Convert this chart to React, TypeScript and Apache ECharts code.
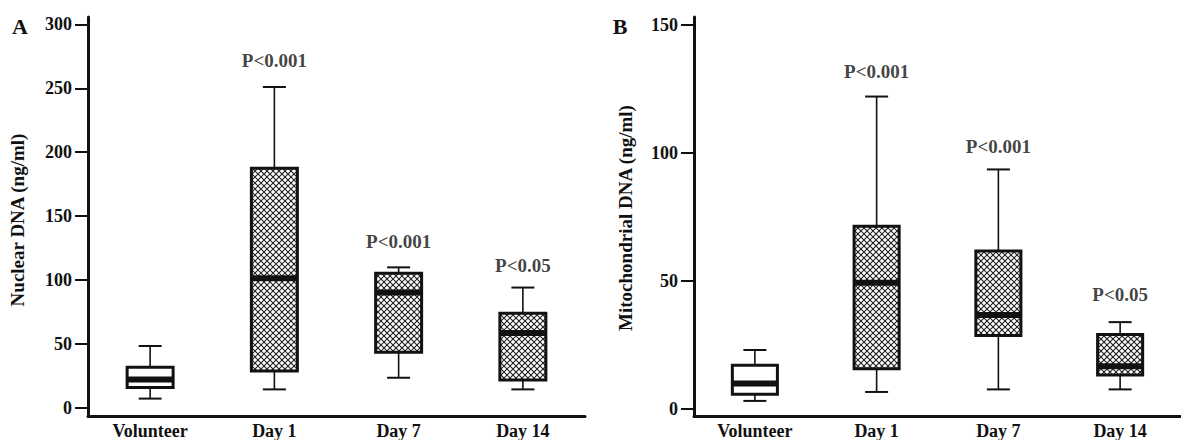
import React, { useEffect, useRef } from 'react';
import * as echarts from 'echarts';

const categories = ['Volunteer', 'Day 1', 'Day 7', 'Day 14'];
// each row: [min, Q1, median, Q3, max]
const nuclearDNA = [
  [7.4, 16, 22.4, 32, 48.5],
  [14.6, 28.9, 101.4, 187.4, 251],
  [23.7, 43.7, 90.3, 105.3, 110],
  [14.6, 21.9, 58.7, 74.2, 94.2],
];
const mitoDNA = [
  [3.0, 5.6, 9.8, 16.9, 22.9],
  [6.5, 15.6, 49.2, 71.3, 122],
  [7.5, 28.6, 36.6, 61.6, 93.5],
  [7.5, 13.1, 16.6, 29.0, 33.8],
];
const hatched = [false, true, true, true];
const nuclearTicks = [0, 50, 100, 150, 200, 250, 300];
const mitoTicks = [0, 50, 100, 150];
const pCategories = ['Day 1', 'Day 7', 'Day 14'];
const pLabels = ['P<0.001', 'P<0.001', 'P<0.05'];
const nuclearPY = [272, 130, 111.7];
const mitoPY = [131.8, 102.5, 44.6];

const FONT = "'Liberation Serif', 'Times New Roman', serif";
const INK = '#111';

function hatchLines(x0: number, y0: number, x1: number, y1: number, s: number) {
  const out: any[] = [];
  const st = { stroke: '#222', lineWidth: 1.1 };
  let c = Math.ceil((y0 - x1) / s) * s;
  for (; c <= y1 - x0; c += s) {
    const xa = Math.max(x0, y0 - c);
    const xb = Math.min(x1, y1 - c);
    if (xb > xa) out.push({ type: 'line', silent: true, shape: { x1: xa, y1: xa + c, x2: xb, y2: xb + c }, style: st });
  }
  c = Math.ceil((x0 + y0) / s) * s;
  for (; c <= x1 + y1; c += s) {
    const xa = Math.max(x0, c - y1);
    const xb = Math.min(x1, c - y0);
    if (xb > xa) out.push({ type: 'line', silent: true, shape: { x1: xa, y1: c - xa, x2: xb, y2: c - xb }, style: st });
  }
  return out;
}

function renderBox(params: any, api: any) {
  const i = api.value(0);
  const [mn, q1, md, q3, mx] = [api.value(1), api.value(2), api.value(3), api.value(4), api.value(5)];
  const cx = api.coord([i, 0])[0];
  const bw = api.size([1, 0])[0] * 0.37;
  const cap = 23;
  const yMin = api.coord([i, mn])[1];
  const yQ1 = api.coord([i, q1])[1];
  const yMd = api.coord([i, md])[1];
  const yQ3 = api.coord([i, q3])[1];
  const yMax = api.coord([i, mx])[1];
  const x0 = cx - bw / 2;
  const x1 = cx + bw / 2;
  const children: any[] = [];
  const wl = { stroke: INK, lineWidth: 1.6 };
  children.push({ type: 'line', shape: { x1: cx, y1: yMax, x2: cx, y2: yQ3 }, style: wl });
  children.push({ type: 'line', shape: { x1: cx, y1: yQ1, x2: cx, y2: yMin }, style: wl });
  children.push({ type: 'line', shape: { x1: cx - cap / 2, y1: yMax, x2: cx + cap / 2, y2: yMax }, style: { stroke: INK, lineWidth: 2 } });
  children.push({ type: 'line', shape: { x1: cx - cap / 2, y1: yMin, x2: cx + cap / 2, y2: yMin }, style: { stroke: INK, lineWidth: 2 } });
  children.push({ type: 'rect', shape: { x: x0, y: yQ3, width: bw, height: yQ1 - yQ3 }, style: { fill: '#fff', stroke: 'none' } });
  if (hatched[i]) {
    children.push(...hatchLines(x0, yQ3, x1, yQ1, 6));
  }
  children.push({ type: 'rect', shape: { x: x0, y: yQ3, width: bw, height: yQ1 - yQ3 }, style: { fill: 'none', stroke: INK, lineWidth: 3 } });
  children.push({ type: 'line', shape: { x1: x0, y1: yMd, x2: x1, y2: yMd }, style: { stroke: INK, lineWidth: 6 } });
  return { type: 'group', children };
}

function yAxisCfg(gridIndex: number, min: number, max: number, ticks: number[]) {
  return {
    gridIndex,
    type: 'value',
    min,
    max,
    axisLine: { show: true, lineStyle: { color: INK, width: 3 } },
    axisTick: { show: true, length: 13, lineStyle: { color: INK, width: 2 }, customValues: ticks },
    axisLabel: { customValues: ticks, fontFamily: FONT, fontWeight: 'bold', fontSize: 18, color: INK, margin: 16 },
    splitLine: { show: false },
  };
}

function xAxisCfg(gridIndex: number) {
  return {
    gridIndex,
    type: 'category',
    data: categories,
    axisLine: { show: true, onZero: false, lineStyle: { color: INK, width: 3 } },
    axisTick: { show: false },
    axisLabel: { fontFamily: FONT, fontWeight: 'bold', fontSize: 18, color: INK, margin: 6 },
    splitLine: { show: false },
  };
}

function pSeries(idx: number, ys: number[]) {
  return {
    type: 'scatter',
    xAxisIndex: idx,
    yAxisIndex: idx,
    silent: true,
    symbolSize: 0,
    itemStyle: { color: INK },
    data: pCategories.map((c, k) => [c, ys[k]]),
    label: {
      show: true,
      position: 'inside',
      formatter: (p: any) => pLabels[p.dataIndex],
      fontFamily: FONT,
      fontWeight: 'bold',
      fontSize: 19,
      color: INK,
      textBorderWidth: 0,
      textBorderColor: 'transparent',
    },
  };
}

export default function App() {
  const ref = useRef<HTMLDivElement>(null);
  useEffect(() => {
    if (!ref.current) return;
    const chart = echarts.init(ref.current, null, { renderer: 'svg' });
    chart.setOption({
      animation: false,
      backgroundColor: '#fff',
      grid: [
        { left: 88, top: 17, width: 497, height: 401.5 },
        { left: 694, top: 17, width: 498, height: 399.7 },
      ],
      xAxis: [xAxisCfg(0), xAxisCfg(1)],
      yAxis: [yAxisCfg(0, -6.2, 305.7, nuclearTicks), yAxisCfg(1, -2.9, 153.1, mitoTicks)],
      series: [
        {
          type: 'custom',
          xAxisIndex: 0,
          yAxisIndex: 0,
          renderItem: renderBox,
          encode: { x: 0, y: [1, 2, 3, 4, 5] },
          data: nuclearDNA.map((r, i) => [i, ...r]),
        },
        {
          type: 'custom',
          xAxisIndex: 1,
          yAxisIndex: 1,
          renderItem: renderBox,
          encode: { x: 0, y: [1, 2, 3, 4, 5] },
          data: mitoDNA.map((r, i) => [i, ...r]),
        },
        pSeries(0, nuclearPY),
        pSeries(1, mitoPY),
      ],
      graphic: [
        { type: 'text', x: 20, y: 26, style: { text: 'A', fontFamily: FONT, fontWeight: 'bold', fontSize: 22, fill: INK, align: 'center', verticalAlign: 'middle' } },
        { type: 'text', x: 620, y: 26, style: { text: 'B', fontFamily: FONT, fontWeight: 'bold', fontSize: 22, fill: INK, align: 'center', verticalAlign: 'middle' } },
        { type: 'text', x: 17, y: 220, rotation: Math.PI / 2, style: { text: 'Nuclear DNA (ng/ml)', fontFamily: FONT, fontWeight: 'bold', fontSize: 19, fill: INK, align: 'center', verticalAlign: 'middle' } },
        { type: 'text', x: 625, y: 218, rotation: Math.PI / 2, style: { text: 'Mitochondrial DNA (ng/ml)', fontFamily: FONT, fontWeight: 'bold', fontSize: 19, fill: INK, align: 'center', verticalAlign: 'middle' } },
      ],
    });
    return () => chart.dispose();
  }, []);
  return <div ref={ref} style={{ position: 'absolute', left: 0, top: 0, width: 1181, height: 440 }} />;
}
